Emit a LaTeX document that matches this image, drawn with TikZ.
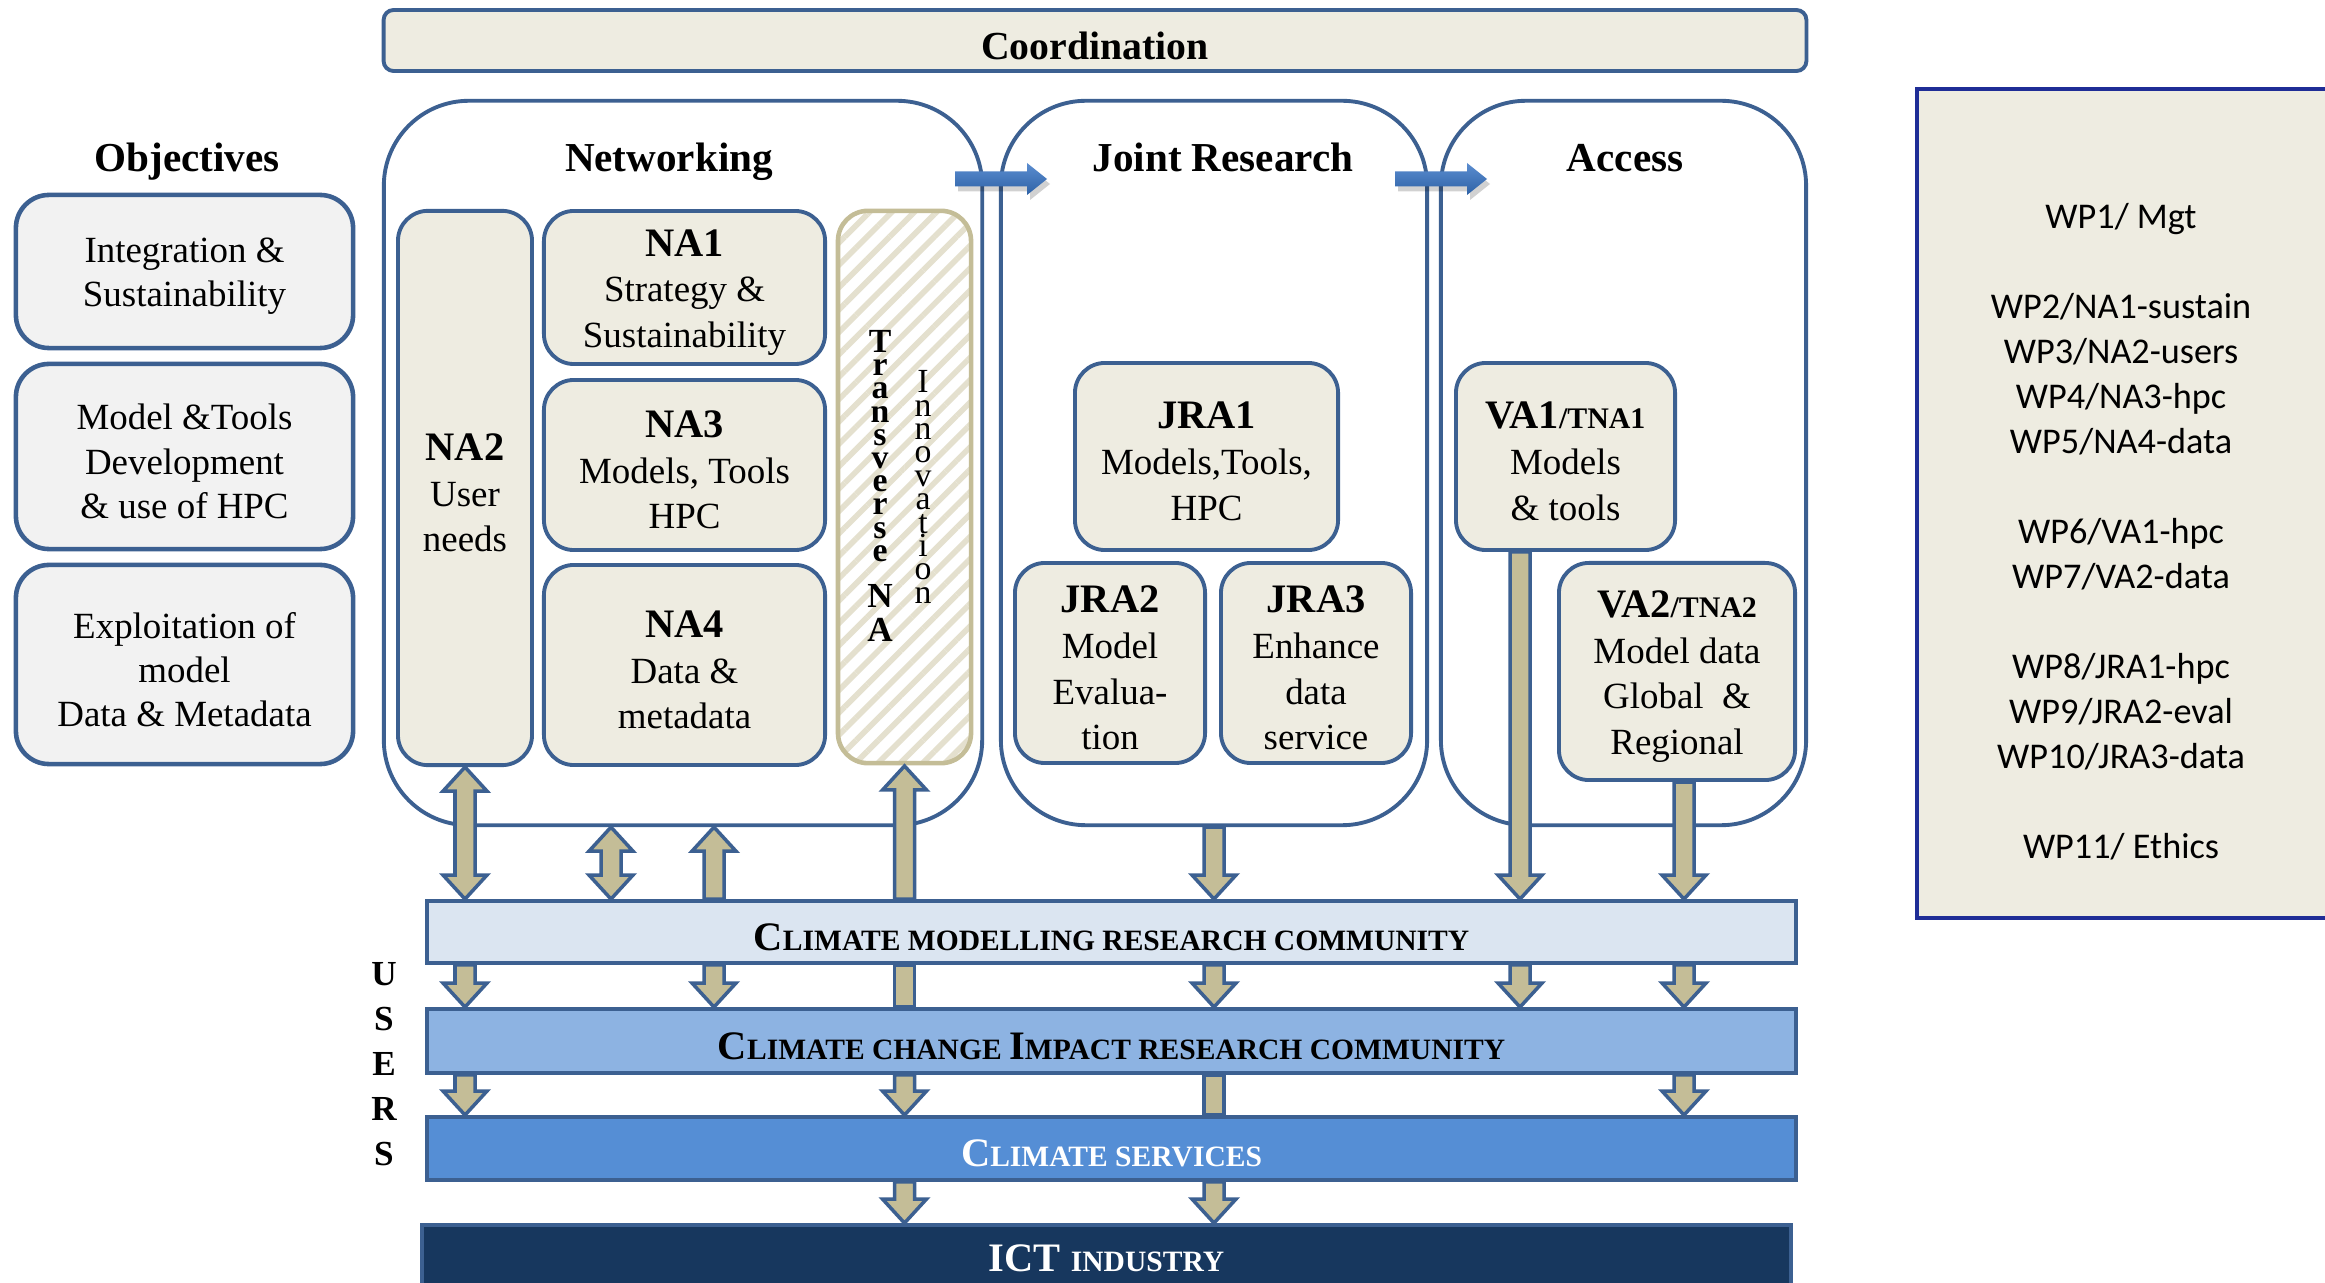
\documentclass[tikz,border=0pt]{standalone}
\usepackage{fontspec}
\setmainfont{Liberation Serif}
\newfontfamily\wpfont{Carlito}
\usetikzlibrary{calc,patterns.meta}
\definecolor{bb}{HTML}{3C6091}
\definecolor{boxfill}{HTML}{EEECE1}
\definecolor{objfill}{HTML}{F2F2F2}
\definecolor{tanc}{HTML}{C4BD97}
\definecolor{stripe}{HTML}{E4E0CE}
\definecolor{cA}{HTML}{DBE5F1}
\definecolor{cB}{HTML}{8DB3E2}
\definecolor{cC}{HTML}{558ED5}
\definecolor{cD}{HTML}{17375E}
\definecolor{wpb}{HTML}{1F2D96}
\definecolor{blA}{HTML}{5B8DD0}
\definecolor{blB}{HTML}{2E62A6}
\newcommand\mysc[1]{{\fontsize{8.4}{10}\selectfont #1}}
\newcommand\boxhd[1]{{\bfseries\fontsize{11.5}{13}\selectfont #1}}
\newcommand\tightlines{\lineskiplimit=-20pt\relax\lineskip=0pt\relax}
\def\pbshift{5}
% #1 style, #2 name, #3 x1, #4 y1, #5 x2, #6 y2, #7 text  (pixel units)
\newcommand\pbox[7]{%
  \pgfmathsetmacro\pbw{(#5-#3)/100}%
  \pgfmathsetmacro\pbh{(#6-#4)/100}%
  \node[#1, minimum width=\pbw cm, minimum height=\pbh cm] (#2) at ({(#3+#5)/2},{(#4+#6)/2}) {};
  \node[#1, draw=none, fill=none, preaction={}, minimum width=0pt, minimum height=0pt] (#2-t) at ($(#2.center)+(0,\pbshift)$) {#7};}
\tikzset{
 box/.style={draw=bb, line width=1.1pt, fill=boxfill, rounded corners=0.3cm, inner sep=0pt, align=center, font=\fontsize{10.5}{13}\selectfont},
 objbox/.style={box, fill=objfill, rounded corners=0.33cm, line width=1.3pt, font=\fontsize{10.5}{12.6}\selectfont},
 cont/.style={draw=bb, line width=1.1pt, fill=white, rounded corners=0.85cm, inner sep=0pt},
 tvbox/.style={draw=tanc, line width=1.3pt, rounded corners=0.3cm, inner sep=0pt, preaction={fill=white}, pattern={Lines[angle=45,distance=4.5pt,line width=1.6pt]}, pattern color=stripe},
 bar/.style={draw=bb, line width=1.1pt, inner sep=0pt, font=\bfseries\fontsize{11.5}{13}\selectfont},
 ttl/.style={font=\bfseries\fontsize{11.7}{14}\selectfont, anchor=base},
 tarr/.style={draw=bb, line width=1pt, fill=tanc, line join=miter},
 dnh/.style={tarr, to path={($(\tikztostart)+(-10,0)$) -- ($(\tikztotarget)+(-10,-24)$) -- ($(\tikztotarget)+(-22,-24)$) -- (\tikztotarget) -- ($(\tikztotarget)+(22,-24)$) -- ($(\tikztotarget)+(10,-24)$) -- ($(\tikztostart)+(10,0)$) -- cycle}},
 uph/.style={tarr, to path={(\tikztostart) -- ($(\tikztostart)+(-22,24)$) -- ($(\tikztostart)+(-10,24)$) -- ($(\tikztotarget)+(-10,0)$) -- ($(\tikztotarget)+(10,0)$) -- ($(\tikztostart)+(10,24)$) -- ($(\tikztostart)+(22,24)$) -- cycle}},
 bothh/.style={tarr, to path={(\tikztostart) -- ($(\tikztostart)+(-22,24)$) -- ($(\tikztostart)+(-10,24)$) -- ($(\tikztotarget)+(-10,-24)$) -- ($(\tikztotarget)+(-22,-24)$) -- (\tikztotarget) -- ($(\tikztotarget)+(22,-24)$) -- ($(\tikztotarget)+(10,-24)$) -- ($(\tikztostart)+(10,24)$) -- ($(\tikztostart)+(22,24)$) -- cycle}},
 plainh/.style={tarr, to path={($(\tikztostart)+(-10,0)$) -- ($(\tikztotarget)+(-10,0)$) -- ($(\tikztotarget)+(10,0)$) -- ($(\tikztostart)+(10,0)$) -- cycle}},
}
\begin{document}
\begin{tikzpicture}[x=0.01cm,y=-0.01cm]
\useasboundingbox (0,0) rectangle (2325,1283);
\fill[white] (0,0) rectangle (2325,1283);

% coordination
\pbox{box, rounded corners=0.1cm, font=\bfseries\fontsize{11.3}{13}\selectfont}{coord}{384}{10}{1806}{71}{Coordination}

% containers
\pbox{cont}{net}{384}{101}{982}{825}{}
\pbox{cont}{jr}{1001}{101}{1427}{825}{}
\pbox{cont}{acc}{1441}{101}{1806}{825}{}

% titles
\node[ttl] (objt) at (187,172) {Objectives};
\node[ttl] (nett) at (669,172) {Networking};
\node[ttl] (jrt) at (1223,172) {Joint Research};
\node[ttl] (acct) at (1625,172) {Access};

% blue block arrows
\coordinate (ba1) at (955,179);
\coordinate (ba2) at (1395,179);
\foreach \b in {ba1,ba2}{
 \fill[black, opacity=0.18] ($(\b)+(3,-2.5)$) -- ($(\b)+(75,-2.5)$) -- ($(\b)+(75,-11)$) -- ($(\b)+(95,5)$) -- ($(\b)+(75,21)$) -- ($(\b)+(75,12.5)$) -- ($(\b)+(3,12.5)$) -- cycle;
 \shade[top color=blA, bottom color=blB] ($(\b)+(0,-7.5)$) -- ($(\b)+(72,-7.5)$) -- ($(\b)+(72,-16)$) -- ($(\b)+(92,0)$) -- ($(\b)+(72,16)$) -- ($(\b)+(72,7.5)$) -- ($(\b)+(0,7.5)$) -- cycle;
}

% objectives
\pbox{objbox}{ob1}{16}{195}{353}{348}{Integration \&\\Sustainability}
\pbox{objbox}{ob2}{16}{364}{353}{549}{Model \&Tools\\Development\\\& use of HPC}
\pbox{objbox}{ob3}{16}{565}{353}{764}{Exploitation of\\model\\Data \& Metadata}

% networking
\pbox{box}{na2}{398}{211}{532}{765}{\boxhd{NA2}\\User\\needs}
\pbox{box}{na1}{544}{211}{825}{364}{\boxhd{NA1}\\Strategy \&\\Sustainability}
\pbox{box}{na3}{544}{380}{825}{550}{\boxhd{NA3}\\Models, Tools\\HPC}
\pbox{box}{na4}{544}{565}{825}{765}{\boxhd{NA4}\\Data \&\\metadata}
\pbox{tvbox}{tv}{838}{211}{971}{763}{}
\node[font={\bfseries\fontsize{9.6}{6.6}\selectfont\tightlines}, align=center, inner sep=0pt] (tvtxt) at (880,446) {T\\r\\a\\n\\s\\v\\e\\r\\s\\e};
\node[font={\bfseries\fontsize{10}{9.7}\selectfont\tightlines}, align=center, inner sep=0pt] (tvna) at (880,613) {N\\A};
\node[font={\fontsize{9.6}{6.65}\selectfont\tightlines}, align=center, inner sep=0pt] (innov) at (923,487) {I\\n\\n\\o\\v\\a\\t\\i\\o\\n};

% joint research
\pbox{box}{jra1}{1075}{363}{1338}{550}{\boxhd{JRA1}\\Models,Tools,\\HPC}
\pbox{box}{jra2}{1015}{563}{1205}{763}{\boxhd{JRA2}\\Model\\Evalua-\\tion}
\pbox{box}{jra3}{1221}{563}{1411}{763}{\boxhd{JRA3}\\Enhance\\data\\service}

% access
\pbox{box}{va1}{1456}{363}{1675}{550}{\boxhd{VA1{\fontsize{8.5}{13}\selectfont/TNA1}}\\Models\\\& tools}
\pbox{box}{va2}{1559}{563}{1795}{780}{\boxhd{VA2{\fontsize{8.5}{13}\selectfont/TNA2}}\\Model data\\Global\ \ \&\\Regional}

% bars
\pbox{bar, fill=cA}{cm}{427}{901}{1796}{963}{C\mysc{LIMATE MODELLING RESEARCH COMMUNITY}}
\pbox{bar, fill=cB}{ci}{427}{1009}{1796}{1073}{C\mysc{LIMATE CHANGE }I\mysc{MPACT RESEARCH COMMUNITY}}
\pbox{bar, fill=cC, text=white}{cs}{427}{1117}{1796}{1180}{C\mysc{LIMATE SERVICES}}
\def\pbshift{-2}
\pbox{bar, fill=cD, text=white}{ict}{422}{1225}{1791}{1295}{ICT \mysc{INDUSTRY}}
\def\pbshift{0}

% users
\node[font=\bfseries\fontsize{10}{12.8}\selectfont, align=center, inner sep=0pt] (users) at (384,1064) {U\\S\\E\\R\\S};

% arrow x positions
\coordinate (xa) at (611,0);
\coordinate (xb) at (714,0);
\coordinate (xc) at (1520,0);
\coordinate (xd) at (1684,0);

% arrows to climate modelling
\draw[bothh] (na2.south) to (na2.south |- cm.north);
\draw[bothh] (xa |- net.south) to (xa |- cm.north);
\draw[uph] (xb |- net.south) to (xb |- cm.north);
\draw[uph] (tv.south) to (tv.south |- cm.north);
\draw[dnh] (jr.south) to (jr.south |- cm.north);
\draw[dnh] (xc |- va1.south) to (xc |- cm.north);
\draw[dnh] (xd |- va2.south) to (xd |- cm.north);
% cm -> ci
\draw[dnh] (na2.south |- cm.south) to (na2.south |- ci.north);
\draw[dnh] (xb |- cm.south) to (xb |- ci.north);
\draw[plainh] (tv.south |- cm.south) to (tv.south |- ci.north);
\draw[dnh] (jr.south |- cm.south) to (jr.south |- ci.north);
\draw[dnh] (xc |- cm.south) to (xc |- ci.north);
\draw[dnh] (xd |- cm.south) to (xd |- ci.north);
% ci -> cs
\draw[dnh] (na2.south |- ci.south) to (na2.south |- cs.north);
\draw[dnh] (tv.south |- ci.south) to (tv.south |- cs.north);
\draw[plainh] (jr.south |- ci.south) to (jr.south |- cs.north);
\draw[dnh] (xd |- ci.south) to (xd |- cs.north);
% cs -> ict
\draw[dnh] (tv.south |- cs.south) to (tv.south |- ict.north);
\draw[dnh] (jr.south |- cs.south) to (jr.south |- ict.north);

% WP list
\pbox{draw=wpb, line width=1.1pt, fill=boxfill, inner sep=0pt}{wp}{1917}{89}{2345}{918}{}
\node[font=\wpfont\fontsize{10.3}{12.8}\selectfont, align=center] (wpl) at (2121,532) {WP1/ Mgt\\[12.8pt]WP2/NA1-sustain\\WP3/NA2-users\\WP4/NA3-hpc\\WP5/NA4-data\\[12.8pt]WP6/VA1-hpc\\WP7/VA2-data\\[12.8pt]WP8/JRA1-hpc\\WP9/JRA2-eval\\WP10/JRA3-data\\[12.8pt]WP11/ Ethics};
\end{tikzpicture}
\end{document}
